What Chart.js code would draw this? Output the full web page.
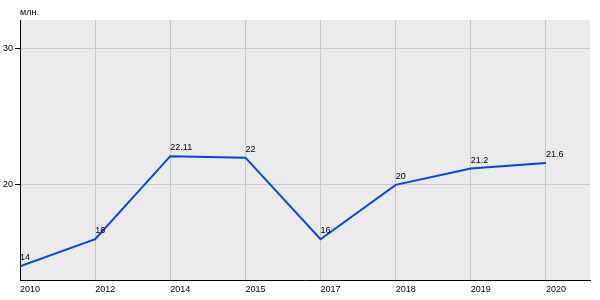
<!DOCTYPE html>
<html>
<head>
<meta charset="utf-8">
<script src="https://cdn.jsdelivr.net/npm/chart.js@4"></script>
<style>
  html, body { margin: 0; padding: 0; background: #fff; }
  #wrap { width: 600px; height: 300px; }
</style>
</head>
<body>
<div id="wrap"><canvas id="c"></canvas></div>
<script>
const years = ['2010', '2012', '2014', '2015', '2017', '2018', '2019', '2020'];
const values = [14, 16, 22.11, 22, 16, 20, 21.2, 21.6];
const valueLabels = ['14', '16', '22.11', '22', '16', '20', '21.2', '21.6'];
const yTicks = [20, 30];
const unitLabel = 'млн.';

const FONT = 'Liberation Sans, Arial, sans-serif';

// grey plot background + unit caption + value labels next to each point
const decorPlugin = {
  id: 'decor',
  beforeDraw(chart) {
    const { ctx, chartArea } = chart;
    ctx.save();
    ctx.fillStyle = '#ebebeb';
    ctx.fillRect(chartArea.left, chartArea.top, chartArea.right - chartArea.left, chartArea.bottom - chartArea.top);
    ctx.restore();
  },
  afterDatasetsDraw(chart) {
    const { ctx, chartArea } = chart;
    ctx.save();
    ctx.font = '9px ' + FONT;
    ctx.fillStyle = '#000';
    ctx.textAlign = 'left';
    ctx.textBaseline = 'alphabetic';
    ctx.fillText(unitLabel, chartArea.left, 15);
    const meta = chart.getDatasetMeta(0);
    meta.data.forEach((pt, i) => {
      ctx.fillText(valueLabels[i], pt.x, pt.y - 6);
    });
    ctx.restore();
  }
};

new Chart(document.getElementById('c'), {
  type: 'line',
  data: {
    datasets: [{
      data: values.map((v, i) => ({ x: i, y: v })),
      borderColor: '#0046e6', backgroundColor: 'transparent', borderWidth: 2,
      pointRadius: 0, tension: 0, fill: false
    }]
  },
  options: {
    responsive: true, maintainAspectRatio: false, animation: false,
    layout: { padding: { top: 20, right: 10, left: 0, bottom: 0 } },
    plugins: { legend: { display: false }, tooltip: { enabled: false } },
    scales: {
      x: {
        type: 'linear', min: 0, max: 7.586,
        afterBuildTicks: s => { s.ticks = years.map((_, i) => ({ value: i })); },
        afterFit: s => { s.height = 20; },
        grid: { color: '#c8c8c8', drawTicks: false },
        border: { color: '#000', width: 1 },
        ticks: { align: 'start', padding: 4, maxRotation: 0, autoSkip: false, color: '#000', font: { family: FONT, size: 9 }, callback: v => years[v] }
      },
      y: {
        min: 13, max: 32.13,
        afterBuildTicks: s => { s.ticks = yTicks.map(v => ({ value: v })); },
        afterFit: s => { s.width = 20; },
        grid: { color: '#c8c8c8', tickColor: '#000', tickLength: 5 },
        border: { color: '#000', width: 1 },
        ticks: { padding: 2, color: '#000', font: { family: FONT, size: 9 } }
      }
    }
  },
  plugins: [decorPlugin]
});
</script>
</body>
</html>
